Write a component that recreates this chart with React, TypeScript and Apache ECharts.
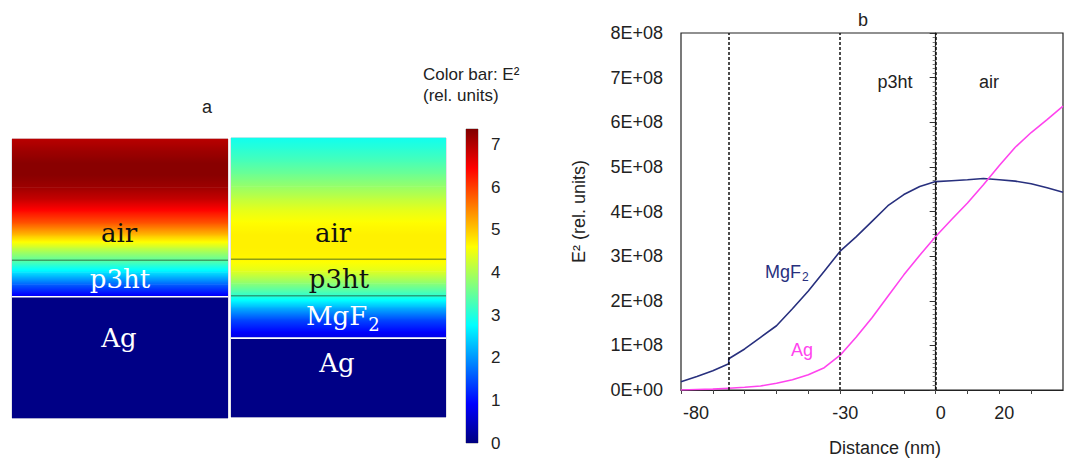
import React, { useEffect, useRef } from "react";
import * as echarts from "echarts";

// ---- Panel a: E^2 profiles through the two stacks (depth in nm, E^2 in 1E8 rel. units)
const depthAg = [100, 90, 80, 70, 60, 50, 40, 30, 20, 10, 0, -10, -20, -30, -30, -130];
const fieldAg = [6.95, 7.15, 7.3, 7.3, 7.15, 6.85, 6.36, 5.8, 5.02, 4.19, 3.44, 2.58, 1.62, 0.78, 0.05, 0.05];
const interfacesAg = [0, -30];
const interfaceKindsAg = ["film", "metal"];

const depthMg = [100, 90, 80, 70, 60, 50, 40, 30, 20, 10, 0, -10, -20, -30, -40, -50, -60, -65, -65, -130];
const fieldMg = [2.88, 3.08, 3.3, 3.55, 3.85, 4.15, 4.43, 4.62, 4.71, 4.71, 4.67, 4.38, 3.78, 3.1, 2.22, 1.44, 0.92, 0.7, 0.05, 0.05];
const interfacesMg = [0, -30, -65];
const interfaceKindsMg = ["film", "film", "metal"];

const depthRange = [-130, 100];
const colorRange = [0, 7.37];

// ---- Panel b: E^2 vs distance
const distMg = [-80, -75, -70, -65, -65, -60, -55, -50, -45, -40, -35, -30, -25, -20, -15, -10, -5, 0, 5, 10, 15, 20, 25, 30, 35, 40];
const e2Mg = [0.185e8, 0.3e8, 0.43e8, 0.59e8, 0.7e8, 0.92e8, 1.18e8, 1.44e8, 1.82e8, 2.22e8, 2.66e8, 3.11e8, 3.43e8, 3.78e8, 4.13e8, 4.38e8, 4.56e8, 4.67e8, 4.69e8, 4.71e8, 4.74e8, 4.71e8, 4.68e8, 4.62e8, 4.53e8, 4.43e8];
const distAg = [-80, -75, -70, -65, -60, -55, -50, -45, -40, -35, -30, -25, -20, -15, -10, -5, 0, 5, 10, 15, 20, 25, 30, 35, 40];
const e2Ag = [0.0, 0.01e8, 0.02e8, 0.04e8, 0.06e8, 0.09e8, 0.15e8, 0.23e8, 0.34e8, 0.5e8, 0.78e8, 1.18e8, 1.62e8, 2.1e8, 2.58e8, 3.02e8, 3.44e8, 3.82e8, 4.19e8, 4.6e8, 5.03e8, 5.44e8, 5.77e8, 6.06e8, 6.36e8];
const layerLines = [-65, -30, 0];
const xLabelValues = [-80, -30, 0, 20];

function clamp01(x: number) {
  return Math.max(0, Math.min(1, x));
}
function jet(v: number) {
  const t = clamp01((v - colorRange[0]) / (colorRange[1] - colorRange[0]));
  const r = clamp01(1.5 - Math.abs(4 * t - 3));
  const g = clamp01(1.5 - Math.abs(4 * t - 2));
  const b = clamp01(1.5 - Math.abs(4 * t - 1));
  return `rgb(${Math.round(r * 255)},${Math.round(g * 255)},${Math.round(b * 255)})`;
}

function segments(depths: number[], vals: number[]) {
  const out: number[][] = [];
  for (let i = 0; i < depths.length - 1; i++) {
    if (depths[i] !== depths[i + 1]) out.push([depths[i], depths[i + 1], vals[i], vals[i + 1]]);
  }
  return out;
}

function renderField(params: any, api: any) {
  const dTop = api.value(0);
  const dBot = api.value(1);
  const vTop = api.value(2);
  const vBot = api.value(3);
  const p0 = api.coord([0, dTop]);
  const p1 = api.coord([1, dBot]);
  const stops = [];
  for (let k = 0; k <= 10; k++) {
    const f = k / 10;
    stops.push({ offset: f, color: jet(vTop + (vBot - vTop) * f) });
  }
  return {
    type: "rect",
    shape: { x: p0[0], y: p0[1] - 0.3, width: p1[0] - p0[0], height: p1[1] - p0[1] + 0.6 },
    style: { fill: new echarts.graphic.LinearGradient(0, 0, 0, 1, stops) },
  };
}

function renderInterface(params: any, api: any) {
  const d = api.value(0);
  const metal = api.value(1) === 1;
  const p0 = api.coord([0, d]);
  const p1 = api.coord([1, d]);
  return {
    type: "line",
    shape: { x1: p0[0], y1: p0[1], x2: p1[0], y2: p1[1] },
    style: { stroke: metal ? "#ffffff" : "rgba(30,70,40,0.5)", lineWidth: 1.6 },
  };
}

function renderColorbar(params: any, api: any) {
  const lo = api.value(1);
  const hi = api.value(2);
  const p0 = api.coord([0, hi]);
  const p1 = api.coord([1, lo]);
  const stops = [];
  for (let k = 0; k <= 16; k++) {
    const f = k / 16;
    stops.push({ offset: f, color: jet(hi + (lo - hi) * f) });
  }
  return {
    type: "rect",
    shape: { x: p0[0], y: p0[1], width: p1[0] - p0[0], height: p1[1] - p0[1] },
    style: { fill: new echarts.graphic.LinearGradient(0, 0, 0, 1, stops) },
  };
}

const SANS = "Liberation Sans, Arial, sans-serif";
const SERIF = "DejaVu Serif, serif";

export default function App() {
  const ref = useRef<HTMLDivElement>(null);
  useEffect(() => {
    if (!ref.current) return;
    const chart = echarts.init(ref.current, undefined, { renderer: "svg" });
    const hiddenX = (gi: number) => ({ type: "value", gridIndex: gi, min: 0, max: 1, show: false });
    const hiddenDepth = (gi: number) => ({ type: "value", gridIndex: gi, min: depthRange[0], max: depthRange[1], show: false });
    const layerText = (text: string, x: number, y: number, fill: string) => ({
      type: "text",
      x,
      y,
      style: { text, fill, font: `26px ${SERIF}`, align: "center", verticalAlign: "middle" },
      z: 10,
    });
    const option: any = {
      animation: false,
      backgroundColor: "#ffffff",
      textStyle: { fontFamily: SANS },
      grid: [
        { left: 12, top: 139, width: 216, height: 279, show: true, borderColor: "#c8c8d4", borderWidth: 1 },
        { left: 231, top: 138, width: 215, height: 279, show: true, borderColor: "#c8c8d4", borderWidth: 1 },
        { left: 466, top: 129, width: 12, height: 314, show: true, borderColor: "#9a9a9a", borderWidth: 1 },
        { left: 681, top: 33, width: 382, height: 360, show: true, borderColor: "#222", borderWidth: 1.2 },
      ],
      xAxis: [
        hiddenX(0),
        hiddenX(1),
        hiddenX(2),
        {
          type: "value",
          gridIndex: 3,
          min: -80,
          max: 40,
          interval: 10,
          axisLine: { lineStyle: { color: "#222", width: 1.2 } },
          axisTick: { show: true, length: 4, lineStyle: { color: "#444" } },
          splitLine: { show: false },
          axisLabel: {
            showMinLabel: true,
            showMaxLabel: false,
            margin: 14,
            fontSize: 18,
            color: "#222",
            formatter: (v: number) => {
              if (!xLabelValues.includes(v)) return "";
              return v === -80 ? `{f|${v}}` : `{n|${v}}`;
            },
            rich: {
              f: { fontSize: 18, color: "#222", padding: [0, 0, 0, 30] },
              n: { fontSize: 18, color: "#222", padding: [0, 0, 0, 10] },
            },
          },
          name: "Distance (nm)",
          nameLocation: "middle",
          nameGap: 49,
          nameTextStyle: { fontSize: 18, color: "#222", padding: [0, 0, 0, 26] },
        },
      ],
      yAxis: [
        hiddenDepth(0),
        hiddenDepth(1),
        {
          type: "value",
          gridIndex: 2,
          position: "right",
          min: colorRange[0],
          max: colorRange[1],
          interval: 1,
          axisLine: { show: false },
          axisTick: { show: false },
          splitLine: { show: false },
          axisLabel: {
            showMaxLabel: false,
            margin: 13,
            fontSize: 17,
            color: "#222",
            formatter: (v: number) => (Number.isInteger(v) ? String(v) : ""),
          },
        },
        {
          type: "value",
          gridIndex: 3,
          min: 0,
          max: 8e8,
          interval: 1e8,
          axisLine: { show: true, lineStyle: { color: "#222", width: 1.2 } },
          axisTick: { show: true, length: 6, lineStyle: { color: "#333" } },
          minorTick: { show: true, splitNumber: 10, length: 3, lineStyle: { color: "#777" } },
          splitLine: { show: false },
          axisLabel: {
            margin: 18,
            fontSize: 18,
            color: "#222",
            formatter: (v: number) => (v === 0 ? "0E+00" : `${Math.round(v / 1e8)}E+08`),
          },
          name: "E² (rel. units)",
          nameLocation: "middle",
          nameGap: 93,
          nameTextStyle: { fontSize: 18, color: "#222" },
        },
      ],
      series: [
        {
          type: "custom",
          xAxisIndex: 0,
          yAxisIndex: 0,
          renderItem: renderField,
          data: segments(depthAg, fieldAg),
          encode: { y: [0, 1] },
          silent: true,
        },
        {
          type: "custom",
          xAxisIndex: 0,
          yAxisIndex: 0,
          renderItem: renderInterface,
          data: interfacesAg.map((d, i) => [d, interfaceKindsAg[i] === "metal" ? 1 : 0]),
          encode: { y: 0 },
          z: 3,
          silent: true,
        },
        {
          type: "custom",
          xAxisIndex: 1,
          yAxisIndex: 1,
          renderItem: renderField,
          data: segments(depthMg, fieldMg),
          encode: { y: [0, 1] },
          silent: true,
        },
        {
          type: "custom",
          xAxisIndex: 1,
          yAxisIndex: 1,
          renderItem: renderInterface,
          data: interfacesMg.map((d, i) => [d, interfaceKindsMg[i] === "metal" ? 1 : 0]),
          encode: { y: 0 },
          z: 3,
          silent: true,
        },
        {
          type: "custom",
          xAxisIndex: 2,
          yAxisIndex: 2,
          renderItem: renderColorbar,
          data: [[0.5, colorRange[0], colorRange[1]]],
          encode: { x: 0, y: [1, 2] },
          silent: true,
        },
        {
          name: "MgF2",
          type: "line",
          xAxisIndex: 3,
          yAxisIndex: 3,
          data: distMg.map((d, i) => [d, e2Mg[i]]),
          showSymbol: false,
          symbol: "none",
          lineStyle: { color: "#28307e", width: 1.6 },
          z: 4,
          markLine: {
            silent: true,
            symbol: "none",
            label: { show: false },
            lineStyle: { color: "#111", type: [3, 2], width: 1.5 },
            data: layerLines.map((x) => ({ xAxis: x })),
          },
        },
        {
          name: "Ag",
          type: "line",
          xAxisIndex: 3,
          yAxisIndex: 3,
          data: distAg.map((d, i) => [d, e2Ag[i]]),
          showSymbol: false,
          symbol: "none",
          lineStyle: { color: "#ff44ee", width: 1.6 },
          z: 4,
        },
      ],
      graphic: [
        { type: "text", x: 207, y: 107, style: { text: "a", fill: "#222", font: `18px ${SANS}`, align: "center", verticalAlign: "middle" } },
        { type: "text", x: 423, y: 74, style: { text: "Color bar: E²", fill: "#222", font: `17px ${SANS}`, align: "left", verticalAlign: "middle" } },
        { type: "text", x: 423, y: 95, style: { text: "(rel. units)", fill: "#222", font: `17px ${SANS}`, align: "left", verticalAlign: "middle" } },
        layerText("air", 119, 233, "#111"),
        layerText("p3ht", 120, 279, "#ffffff"),
        layerText("Ag", 119, 338, "#ffffff"),
        layerText("air", 333, 233, "#111"),
        layerText("p3ht", 339, 279, "#111"),
        {
          type: "text",
          x: 306,
          y: 316,
          z: 10,
          style: {
            text: "{m|MgF}{s|2}",
            align: "left",
            verticalAlign: "middle",
            rich: {
              m: { fontFamily: SERIF, fontSize: 26, fill: "#ffffff", color: "#ffffff", lineHeight: 30 },
              s: { fontFamily: SERIF, fontSize: 18, fill: "#ffffff", color: "#ffffff", lineHeight: 30, padding: [16, 0, 0, 1] },
            },
          },
        },
        layerText("Ag", 337, 363, "#ffffff"),
        { type: "text", x: 863, y: 20, style: { text: "b", fill: "#222", font: `18px ${SANS}`, align: "center", verticalAlign: "middle" } },
        { type: "text", x: 895, y: 82, style: { text: "p3ht", fill: "#222", font: `18px ${SANS}`, align: "center", verticalAlign: "middle" } },
        { type: "text", x: 989, y: 82, style: { text: "air", fill: "#222", font: `18px ${SANS}`, align: "center", verticalAlign: "middle" } },
        {
          type: "text",
          x: 765,
          y: 272,
          z: 10,
          style: {
            text: "{m|MgF}{s|2}",
            align: "left",
            verticalAlign: "middle",
            rich: {
              m: { fontFamily: SANS, fontSize: 18, fill: "#28307e", color: "#28307e", lineHeight: 22 },
              s: { fontFamily: SANS, fontSize: 12, fill: "#28307e", color: "#28307e", lineHeight: 22, padding: [10, 0, 0, 1] },
            },
          },
        },
        { type: "text", x: 802, y: 350, style: { text: "Ag", fill: "#ff44ee", font: `18px ${SANS}`, align: "center", verticalAlign: "middle" } },
      ],
    };
    chart.setOption(option);
    return () => chart.dispose();
  }, []);
  return <div ref={ref} style={{ position: "fixed", left: 0, top: 0, width: 1070, height: 462, background: "#fff" }} />;
}
